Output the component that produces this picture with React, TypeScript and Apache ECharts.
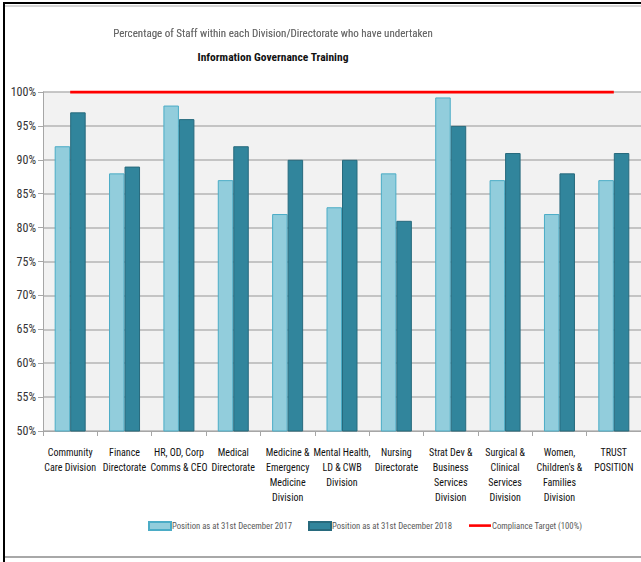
import React, { useEffect, useRef } from "react";
import * as echarts from "echarts";

const categories = [
  "Community\nCare Division",
  "Finance\nDirectorate",
  "HR, OD, Corp\nComms & CEO",
  "Medical\nDirectorate",
  "Medicine &\nEmergency\nMedicine\nDivision",
  "Mental Health,\nLD & CWB\nDivision",
  "Nursing\nDirectorate",
  "Strat Dev &\nBusiness\nServices\nDivision",
  "Surgical &\nClinical\nServices\nDivision",
  "Women,\nChildren's &\nFamilies\nDivision",
  "TRUST\nPOSITION",
];
const dec2017 = [92, 88, 98, 87, 82, 83, 88, 99.2, 87, 82, 87];
const dec2018 = [97, 89, 96, 92, 90, 90, 81, 95, 91, 88, 91];
const target = [100, 100, 100, 100, 100, 100, 100, 100, 100, 100, 100];
const seriesNames = [
  "Position as at 31st December 2017",
  "Position as at 31st December 2018",
  "Compliance Target (100%)",
];

const FONT = "'Liberation Sans Narrow', 'Arial Narrow', 'Roboto Condensed', sans-serif";

const legendText = { fontFamily: FONT, fontSize: 8.7, color: "#595959", padding: [0, 0, 0, -4] };

export default function App() {
  const ref = useRef<HTMLDivElement>(null);
  useEffect(() => {
    if (!ref.current) return;
    const chart = echarts.init(ref.current, undefined, { renderer: "svg" });
    chart.setOption({
      animation: false,
      textStyle: { fontFamily: FONT },
      title: {
        text: "Percentage of Staff within each Division/Directorate who have undertaken",
        subtext: "Information Governance Training",
        left: 268,
        textAlign: "center",
        top: 23,
        itemGap: 12,
        textStyle: {
          fontFamily: FONT,
          fontSize: 11,
          fontWeight: "normal",
          color: "#666",
          textShadowColor: "rgba(0,0,0,0.35)",
          textShadowBlur: 1,
        },
        subtextStyle: {
          fontFamily: FONT,
          fontSize: 11.5,
          fontWeight: "bold",
          color: "#111",
        },
      },
      graphic: [
        { type: "line", shape: { x1: 4, y1: 3, x2: 641, y2: 3 }, style: { stroke: "#000", lineWidth: 2 } },
        { type: "line", shape: { x1: 5, y1: 6, x2: 641, y2: 6 }, style: { stroke: "#c8c8c8", lineWidth: 1.5 } },
        { type: "line", shape: { x1: 4, y1: 2, x2: 4, y2: 562 }, style: { stroke: "#000", lineWidth: 2 } },
        { type: "line", shape: { x1: 5, y1: 557, x2: 641, y2: 557 }, style: { stroke: "#a8a8a8", lineWidth: 2 } },
      ],
      legend: [
        {
          left: 143,
          top: 516,
          itemWidth: 22,
          itemHeight: 8,
          data: [{ name: seriesNames[0], icon: "rect" }],
          textStyle: legendText,
        },
        {
          left: 303,
          top: 516,
          itemWidth: 22,
          itemHeight: 8,
          data: [{ name: seriesNames[1], icon: "rect" }],
          textStyle: legendText,
        },
        {
          left: 464,
          top: 516,
          itemWidth: 22,
          itemHeight: 8,
          data: [{ name: seriesNames[2], icon: "path://M0,0M22,8M0,2.8h22v2.6h-22z" }],
          textStyle: legendText,
        },
      ],
      grid: {
        left: 43,
        right: 0,
        top: 92,
        bottom: 131,
        show: true,
        backgroundColor: "#f2f2f2",
        borderWidth: 0,
      },
      xAxis: {
        type: "category",
        data: categories,
        axisLine: { lineStyle: { color: "#a6a6a6", width: 1 } },
        axisTick: { show: true, length: 5, lineStyle: { color: "#a6a6a6" } },
        axisLabel: {
          interval: 0,
          margin: 14,
          fontFamily: FONT,
          fontSize: 10,
          lineHeight: 15,
          color: "#111",
        },
      },
      yAxis: {
        type: "value",
        min: 50,
        max: 100,
        interval: 5,
        axisLine: { show: true, lineStyle: { color: "#a6a6a6" } },
        axisTick: { show: true, length: 5, lineStyle: { color: "#a6a6a6" } },
        splitLine: { lineStyle: { color: "#b4b4b4", width: 1.5 } },
        axisLabel: {
          formatter: "{value}%",
          fontFamily: FONT,
          fontSize: 12,
          color: "#333",
          margin: 7,
        },
      },
      series: [
        {
          name: seriesNames[0],
          type: "bar",
          data: dec2017,
          barWidth: 15.5,
          barGap: "0%",
          itemStyle: { color: "#92cddc", borderColor: "#4bacc6", borderWidth: 1 },
        },
        {
          name: seriesNames[1],
          type: "bar",
          data: dec2018,
          barWidth: 15.5,
          barGap: "0%",
          itemStyle: { color: "#31859c", borderColor: "#276a7d", borderWidth: 1 },
        },
        {
          name: seriesNames[2],
          type: "line",
          data: target,
          symbol: "none",
          z: 5,
          lineStyle: { color: "#ff0000", width: 3 },
          itemStyle: { color: "#ff0000" },
        },
      ],
    });
    return () => chart.dispose();
  }, []);
  return (
    <div
      ref={ref}
      style={{ position: "absolute", left: 0, top: 0, width: 641, height: 562, background: "#fff" }}
    />
  );
}
